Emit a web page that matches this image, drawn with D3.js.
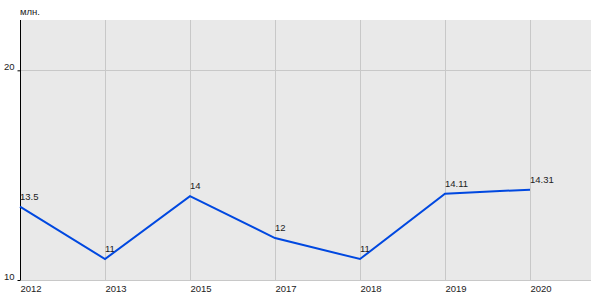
<!DOCTYPE html>
<html><head><meta charset="utf-8">
<script src="https://cdn.jsdelivr.net/npm/d3@7"></script>
<style>body{margin:0;background:#fff}svg{display:block}text{font-family:"Liberation Sans",Arial,sans-serif}</style>
</head><body><svg id="c" width="600" height="300"></svg>
<script>
const categories = ["2012","2013","2015","2017","2018","2019","2020"];
const values = [13.5, 11, 14, 12, 11, 14.11, 14.31];
const valueLabels = ["13.5","11","14","12","11","14.11","14.31"];
const yTicks = [10, 20];
const unitLabel = "млн.";

const FS = 9.5;
const svg = d3.select("#c");
const L = 20, R = 591, T = 20, B = 280;
const x = d3.scalePoint().domain(categories).range([L, 530]);
const y = d3.scaleLinear().domain([10, 22.4]).range([B, T]);

svg.append("rect").attr("x", L).attr("y", T).attr("width", R - L).attr("height", B - T).attr("fill", "#e9e9e9");

svg.append("g").selectAll("line").data(categories).join("line")
  .attr("x1", d => x(d) + 0.5).attr("x2", d => x(d) + 0.5)
  .attr("y1", T).attr("y2", B).attr("stroke", "#c8c8c8").attr("stroke-width", 1);
svg.append("g").selectAll("line").data(yTicks.filter(v => v > 10)).join("line")
  .attr("x1", L).attr("x2", R).attr("y1", d => Math.round(y(d)) + 0.5).attr("y2", d => Math.round(y(d)) + 0.5)
  .attr("stroke", "#c8c8c8");
svg.append("line").attr("x1", L).attr("x2", R).attr("y1", B + 0.5).attr("y2", B + 0.5).attr("stroke", "#c8c8c8");

const yAxis = d3.axisLeft(y).tickValues(yTicks).tickSize(3).tickPadding(3).tickFormat(d3.format("d"));
const ga = svg.append("g").attr("transform", `translate(${L + 0.5},0)`).call(yAxis);
ga.select(".domain").attr("stroke", "#000").attr("d", `M0,${T}V${B}`);
ga.selectAll(".tick line").attr("stroke", "#000");
ga.selectAll(".tick text").attr("font-size", FS).attr("fill", "#222").attr("font-family", "Liberation Sans, Arial, sans-serif").attr("dy", "-0.5");

const xAxis = d3.axisBottom(x).tickSize(0).tickPadding(0);
const gx = svg.append("g").attr("transform", `translate(0,${B})`).call(xAxis);
gx.select(".domain").remove();
gx.selectAll(".tick text").attr("text-anchor", "start").attr("dy", "0").attr("y", 12)
  .attr("font-size", FS).attr("fill", "#222").attr("font-family", "Liberation Sans, Arial, sans-serif");

const line = d3.line().x((d, i) => x(categories[i])).y(d => y(d));
svg.append("path").datum(values).attr("d", line).attr("fill", "none")
  .attr("stroke", "#0048e0").attr("stroke-width", 2);

svg.append("g").selectAll("text").data(values).join("text")
  .attr("x", (d, i) => x(categories[i])).attr("y", d => y(d) - 7)
  .attr("font-size", FS).attr("fill", "#222").text((d, i) => valueLabels[i]);

svg.append("text").attr("x", L).attr("y", 15).attr("font-size", FS).attr("fill", "#222").text(unitLabel);
</script></body></html>
